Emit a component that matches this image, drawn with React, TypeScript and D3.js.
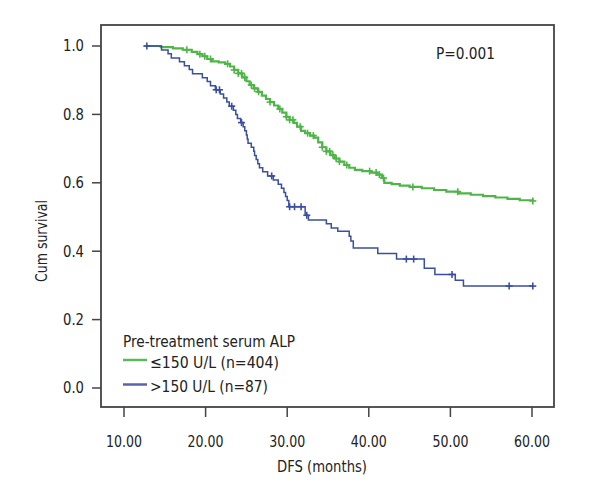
import React from "react";
import * as d3 from "d3";

// ---- data ----
const xTicks = [10, 20, 30, 40, 50, 60];
const yTicks = [0, 0.2, 0.4, 0.6, 0.8, 1.0];

// ≤150 U/L (n=404): step times and survival after each step
const lowStart = 12.5;
const lowEnd = 60.1;
const lowTimes = [14.5, 16.0, 17.2, 18.3, 19.0, 19.6, 20.2, 20.8, 21.6, 22.4, 23.0, 23.5, 24.0, 24.5, 25.0, 25.4, 25.9, 26.4, 26.9, 27.4, 27.9, 28.4, 28.9, 29.4, 29.9, 30.3, 30.8, 31.2, 31.7, 32.2, 32.8, 33.3, 33.8, 34.3, 34.8, 35.3, 35.8, 36.4, 37.0, 37.6, 38.3, 39.2, 40.3, 41.0, 41.6, 41.9, 42.8, 43.8, 45.0, 46.5, 48.0, 49.5, 51.0, 52.5, 54.0, 55.5, 57.0, 58.5];
const lowSurv = [0.997, 0.993, 0.989, 0.983, 0.976, 0.970, 0.962, 0.955, 0.952, 0.948, 0.940, 0.930, 0.920, 0.908, 0.897, 0.886, 0.876, 0.866, 0.855, 0.845, 0.836, 0.826, 0.816, 0.805, 0.793, 0.784, 0.775, 0.764, 0.752, 0.745, 0.738, 0.732, 0.718, 0.704, 0.692, 0.681, 0.671, 0.662, 0.652, 0.644, 0.638, 0.634, 0.630, 0.624, 0.614, 0.600, 0.596, 0.592, 0.588, 0.584, 0.579, 0.574, 0.569, 0.565, 0.561, 0.557, 0.553, 0.549];
const lowCensored = [17.7, 19.3, 19.9, 20.6, 22.7, 23.5, 24.0, 24.4, 24.8, 25.6, 26.0, 26.5, 27.9, 29.1, 29.9, 30.3, 30.7, 31.6, 32.5, 33.2, 34.3, 34.8, 35.2, 35.6, 36.0, 36.4, 37.3, 40.1, 40.9, 41.3, 41.8, 45.4, 50.9, 60.1];
const lowFinal = 0.547;

// >150 U/L (n=87)
const highStart = 12.8;
const highEnd = 60.1;
const highTimes = [14.6, 15.4, 15.8, 16.8, 17.4, 18.0, 18.4, 19.6, 20.2, 20.6, 21.2, 21.8, 22.2, 22.6, 22.9, 23.4, 23.7, 23.9, 24.3, 24.6, 24.8, 25.0, 25.1, 25.2, 25.6, 25.9, 26.0, 26.2, 26.4, 26.6, 27.0, 27.6, 28.3, 28.9, 29.3, 29.6, 29.8, 30.0, 30.2, 32.2, 32.6, 34.8, 35.4, 36.2, 37.6, 37.8, 38.1, 41.1, 43.4, 46.8, 48.1, 50.6, 51.6];
const highSurv = [0.988, 0.977, 0.965, 0.954, 0.942, 0.931, 0.919, 0.907, 0.896, 0.884, 0.872, 0.860, 0.848, 0.836, 0.824, 0.812, 0.800, 0.788, 0.776, 0.764, 0.752, 0.740, 0.728, 0.716, 0.704, 0.692, 0.680, 0.668, 0.656, 0.644, 0.632, 0.620, 0.608, 0.596, 0.584, 0.572, 0.560, 0.548, 0.530, 0.505, 0.491, 0.480, 0.468, 0.458, 0.444, 0.430, 0.409, 0.393, 0.377, 0.350, 0.332, 0.315, 0.298];
const highCensored = [12.8, 21.3, 21.7, 23.2, 24.4, 28.1, 30.3, 30.9, 31.7, 32.4, 44.6, 45.5, 50.2, 57.2, 60.1];

const groupLabels = ["\u2264150 U/L (n=404)", ">150 U/L (n=87)"];
const legendTitle = "Pre-treatment serum ALP";
const pText = "P=0.001";

// ---- style ----
const GREEN = "#4fb548";
const BLUE = "#3a4f9e";
const AXIS = "#444";
const FONT = "'DejaVu Sans Condensed', 'DejaVu Sans', sans-serif";

export default function App() {
  const W = 600, H = 500;
  const box = { left: 101, right: 554, top: 25, bottom: 407 };
  const x = d3.scaleLinear().domain([10, 60]).range([124, 532]);
  const y = d3.scaleLinear().domain([0, 1]).range([388, 46]);

  const buildSeries = (start: number, times: number[], surv: number[], end: number) => {
    const pts: [number, number][] = [[start, 1]];
    times.forEach((t, i) => pts.push([t, surv[i]]));
    pts.push([end, surv[surv.length - 1]]);
    return pts;
  };
  const lowPts = buildSeries(lowStart, lowTimes, lowSurv, lowEnd);
  lowPts[lowPts.length - 1] = [lowEnd, lowFinal];
  const highPts = buildSeries(highStart, highTimes, highSurv, highEnd);

  const line = d3
    .line<[number, number]>()
    .x((d) => x(d[0]))
    .y((d) => y(d[1]))
    .curve(d3.curveStepAfter);

  const bis = d3.bisector((d: [number, number]) => d[0]).right;
  const survAt = (pts: [number, number][], t: number) => {
    const i = bis(pts, t) - 1;
    return pts[Math.max(0, i)][1];
  };

  const cross = (cx: number, cy: number, s: number, color: string, key: string) => (
    <g key={key} stroke={color} strokeWidth={1.6}>
      <line x1={cx - s} x2={cx + s} y1={cy} y2={cy} />
      <line x1={cx} x2={cx} y1={cy - s} y2={cy + s} />
    </g>
  );

  const txt = "#222";

  return (
    <svg width={W} height={H} style={{ position: "absolute", left: 0, top: 0, background: "#fff" }} fontFamily={FONT}>
      <rect x={0} y={0} width={W} height={H} fill="#fff" />
      {/* frame */}
      <rect x={box.left} y={box.top} width={box.right - box.left} height={box.bottom - box.top} fill="none" stroke={AXIS} strokeWidth={1.8} />
      {/* y ticks */}
      {yTicks.map((t) => (
        <g key={"y" + t}>
          <line x1={box.left - 9} x2={box.left} y1={y(t)} y2={y(t)} stroke={AXIS} strokeWidth={1.5} />
          <text x={84} y={y(t)} dy="0.36em" textAnchor="end" fontSize={15} textLength={21} lengthAdjust="spacingAndGlyphs" fill={txt}>
            {t.toFixed(1)}
          </text>
        </g>
      ))}
      {/* x ticks */}
      {xTicks.map((t) => (
        <g key={"x" + t}>
          <line x1={x(t)} x2={x(t)} y1={box.bottom} y2={box.bottom + 10} stroke={AXIS} strokeWidth={1.5} />
          <text x={x(t)} y={447} textAnchor="middle" fontSize={15} textLength={36} lengthAdjust="spacingAndGlyphs" fill={txt}>
            {t.toFixed(2)}
          </text>
        </g>
      ))}
      <text x={322} y={472} textAnchor="middle" fontSize={16} textLength={90} lengthAdjust="spacingAndGlyphs" fill={txt}>DFS (months)</text>
      <text transform={`translate(47,241) rotate(-90)`} textAnchor="middle" fontSize={16} textLength={82} lengthAdjust="spacingAndGlyphs" fill={txt}>Cum survival</text>
      <text x={436} y={59} fontSize={16} textLength={59} lengthAdjust="spacingAndGlyphs" fill={txt}>{pText}</text>

      {/* curves */}
      <path d={line(lowPts) || ""} fill="none" stroke={GREEN} strokeWidth={2.2} />
      <path d={line(highPts) || ""} fill="none" stroke={BLUE} strokeWidth={1.5} />
      {lowCensored.map((t, i) => cross(x(t), y(survAt(lowPts, t)), 3.5, GREEN, "lc" + i))}
      {highCensored.map((t, i) => cross(x(t), y(survAt(highPts, t)), 3.5, BLUE, "hc" + i))}

      {/* legend */}
      <text x={123} y={347} fontSize={16.5} textLength={172} lengthAdjust="spacingAndGlyphs" fill={txt}>{legendTitle}</text>
      <line x1={123} x2={147} y1={360} y2={360} stroke="#5cb85c" strokeWidth={2.5} />
      <text x={150} y={367.5} fontSize={16.5} textLength={129} lengthAdjust="spacingAndGlyphs" fill={txt}>{groupLabels[0]}</text>
      <line x1={123} x2={147} y1={384.5} y2={384.5} stroke="#5a63a8" strokeWidth={2.5} />
      <text x={150} y={391.5} fontSize={16.5} textLength={118} lengthAdjust="spacingAndGlyphs" fill={txt}>{groupLabels[1]}</text>
    </svg>
  );
}
